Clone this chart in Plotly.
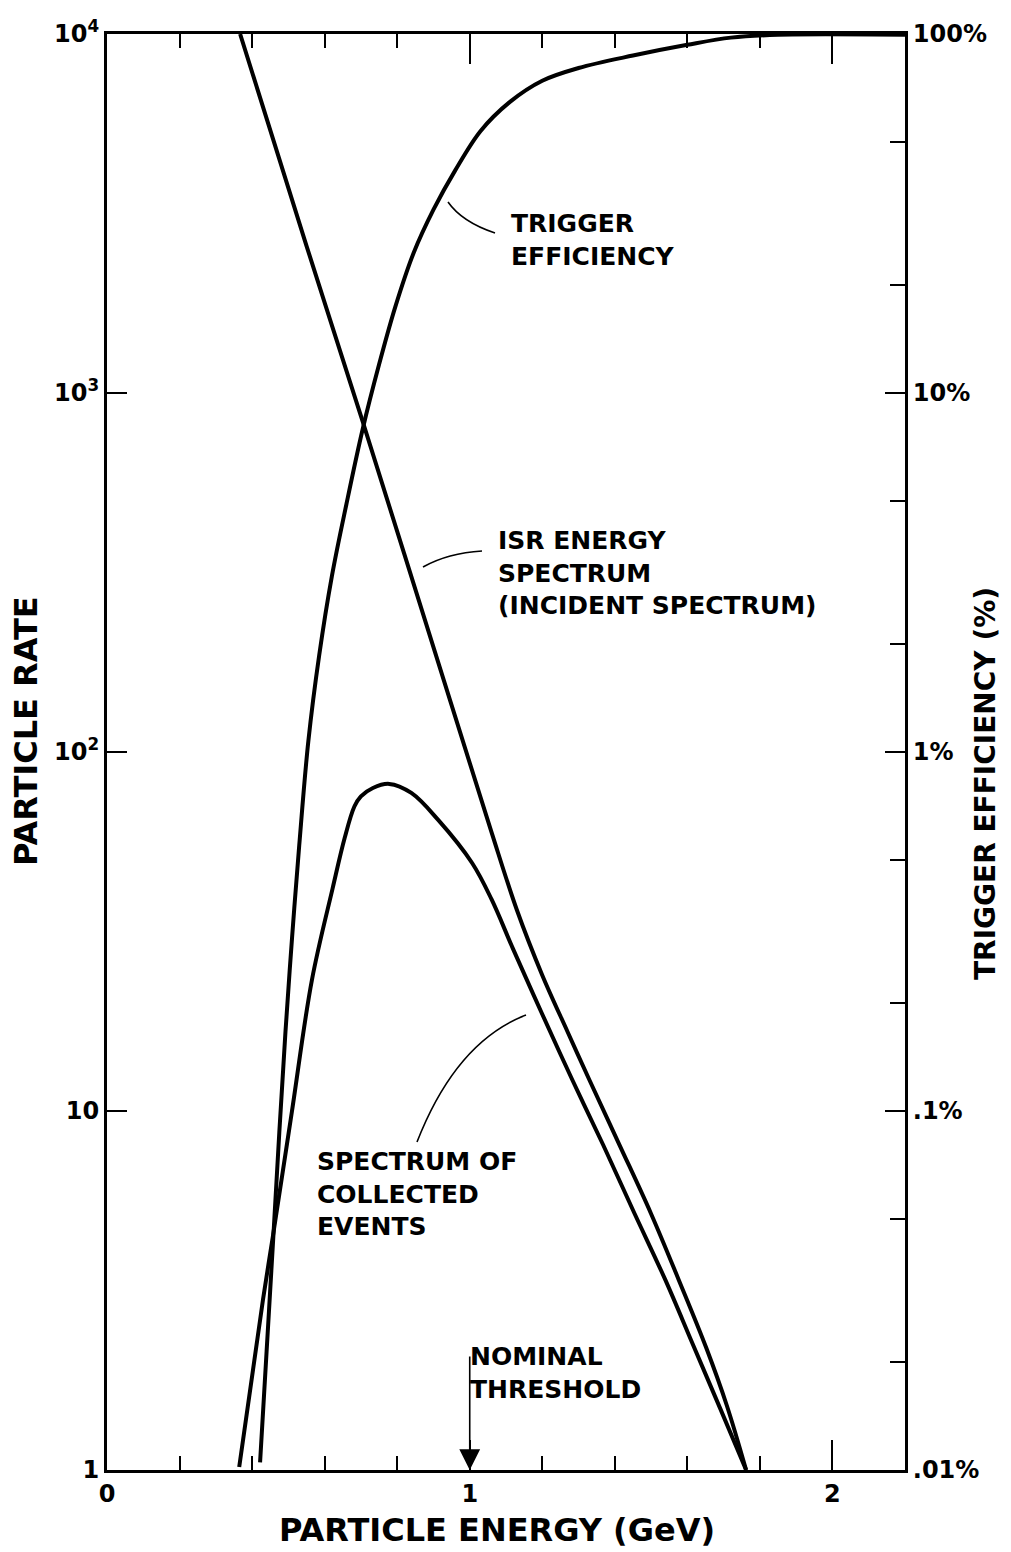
import plotly.graph_objects as go

# ---- data -------------------------------------------------------------
# ISR energy spectrum (incident spectrum): particle rate vs energy (GeV)
isr_energy = [0.367, 0.55, 0.705, 0.95, 1.06, 1.13, 1.20, 1.27, 1.33,
              1.414, 1.499, 1.576, 1.652, 1.709, 1.762]
isr_rate = [10000, 2570, 832, 135, 59.8, 36.3, 23.9, 16.6, 12.2,
            8.0, 5.2, 3.39, 2.19, 1.51, 1.0]

# Spectrum of collected events
col_energy = [0.3645, 0.430, 0.458, 0.51, 0.565, 0.622, 0.655, 0.682, 0.700,
              0.733, 0.778, 0.839, 0.913, 1.007, 1.06, 1.12, 1.20, 1.283,
              1.368, 1.454, 1.539, 1.615, 1.691, 1.762]
col_rate = [1.02, 2.98, 4.52, 10.0, 23.2, 41.7, 57.5, 70.5, 75.2,
            79.4, 81.5, 76.9, 64.7, 49.0, 38.9, 28.2, 18.6, 12.2,
            8.04, 5.19, 3.39, 2.24, 1.48, 1.0]

# Trigger efficiency (%) on the right-hand axis
eff_energy = [0.422, 0.440, 0.458, 0.475, 0.492, 0.510, 0.530, 0.555, 0.585,
              0.620, 0.660, 0.705, 0.750, 0.795, 0.845, 0.900, 0.960, 1.030,
              1.110, 1.200, 1.300, 1.450, 1.600, 1.720, 1.850, 2.200]
eff_pct = [0.0105, 0.0214, 0.0437, 0.0871, 0.166, 0.302, 0.550, 1.07, 1.86,
           3.09, 4.90, 7.94, 12.0, 17.4, 24.5, 32.4, 41.7, 53.7,
           64.6, 74.1, 80.4, 87.1, 93.3, 97.7, 99.5, 99.5]

# axis ticks
rate_ticks = [1, 10, 100, 1000, 10000]
rate_labels = ["1", "10", "10<sup>2</sup>", "10<sup>3</sup>", "10<sup>4</sup>"]
eff_ticks = [0.01, 0.1, 1, 10, 100]
eff_labels = [".01%", ".1%", "1%", "10%", "100%"]
eff_minor = [0.02, 0.05, 0.2, 0.5, 2, 5, 20, 50]
energy_ticks = [0, 1, 2]
energy_labels = ["0", "1", "2"]

# ---- figure -----------------------------------------------------------
W, H = 1011, 1552
ML, MR, MT, MB = 107, 106, 34, 82
FONT = "DejaVu Sans"
LINE = dict(color="black", width=4)

fig = go.Figure()
fig.add_trace(go.Scatter(x=isr_energy, y=isr_rate, mode="lines",
                         line=dict(LINE, shape="spline", smoothing=1.0)))
fig.add_trace(go.Scatter(x=col_energy, y=col_rate, mode="lines",
                         line=dict(LINE, shape="spline", smoothing=1.0)))
fig.add_trace(go.Scatter(x=eff_energy, y=eff_pct, mode="lines", yaxis="y2",
                         line=dict(LINE, shape="spline", smoothing=1.0)))


def paper(px, py):
    """Page pixel position -> paper fraction of the plotting area."""
    return (px - ML) / (W - ML - MR), (H - MB - py) / (H - MT - MB)


def label(text, px, py, size=25, angle=0, xanchor="left"):
    x, y = paper(px, py)
    fig.add_annotation(text=text, x=x, y=y, xref="paper", yref="paper",
                       xanchor=xanchor, yanchor="middle", align="left",
                       showarrow=False, textangle=angle,
                       font=dict(family=FONT, size=size, color="black",
                                 weight="bold"))


def leader(p0, c, p1):
    x0, y0 = paper(*p0)
    cx, cy = paper(*c)
    x1, y1 = paper(*p1)
    fig.add_shape(type="path", xref="paper", yref="paper",
                  path=f"M {x0},{y0} Q {cx},{cy} {x1},{y1}",
                  line=dict(color="black", width=1.6))


# curve labels with their leader lines
label("TRIGGER<br>EFFICIENCY", 509, 240)
leader((448, 202), (462, 222), (495, 233))

label("ISR ENERGY<br>SPECTRUM<br>(INCIDENT SPECTRUM)", 496, 573)
leader((423, 567), (448, 553), (482, 551))

label("SPECTRUM OF<br>COLLECTED<br>EVENTS", 315, 1194)
leader((526, 1015), (456, 1042), (417, 1142))

label("NOMINAL<br>THRESHOLD", 468, 1373)

# nominal threshold arrow at 1 GeV
fig.add_annotation(x=1, y=0, xref="x", yref="y", text="", showarrow=True,
                   ax=0, ay=-115, arrowhead=2, arrowsize=2.6, arrowwidth=1.6,
                   arrowcolor="black")

# axis titles
label("PARTICLE ENERGY (GeV)", 497, 1530, size=32, xanchor="center")
label("PARTICLE RATE", 26, 731, size=32, angle=-90, xanchor="center")
label("TRIGGER EFFICIENCY (%)", 985, 784, size=28, angle=-90,
      xanchor="center")

tickfont = dict(family=FONT, size=24, color="black", weight="bold")

fig.update_layout(
    width=W, height=H,
    margin=dict(l=ML, r=MR, t=MT, b=MB),
    paper_bgcolor="white", plot_bgcolor="white",
    showlegend=False,
    xaxis=dict(range=[0, 2.2], tickmode="array", tickvals=energy_ticks,
               ticktext=energy_labels, ticks="inside", ticklen=30,
               tickwidth=2, tickcolor="black", showline=True, linewidth=3,
               linecolor="black", mirror="ticks", showgrid=False,
               zeroline=False, tickfont=tickfont,
               minor=dict(dtick=0.2, ticks="inside", ticklen=14, tickwidth=2,
                          tickcolor="black", showgrid=False)),
    yaxis=dict(type="log", range=[0, 4], tickmode="array",
               tickvals=rate_ticks, ticktext=rate_labels, ticks="inside",
               ticklen=20, tickwidth=2, tickcolor="black", showline=True,
               linewidth=3, linecolor="black", mirror=True, showgrid=False,
               zeroline=False, tickfont=tickfont),
    yaxis2=dict(type="log", range=[-2, 2], overlaying="y", side="right",
                tickmode="array", tickvals=eff_ticks, ticktext=eff_labels,
                ticks="inside", ticklen=20, tickwidth=2, tickcolor="black",
                showline=True, linewidth=3, linecolor="black",
                showgrid=False, zeroline=False, tickfont=tickfont,
                minor=dict(tickmode="array", tickvals=eff_minor,
                           ticks="inside", ticklen=15, tickwidth=2,
                           tickcolor="black", showgrid=False)),
)

fig.write_html("out.html")
